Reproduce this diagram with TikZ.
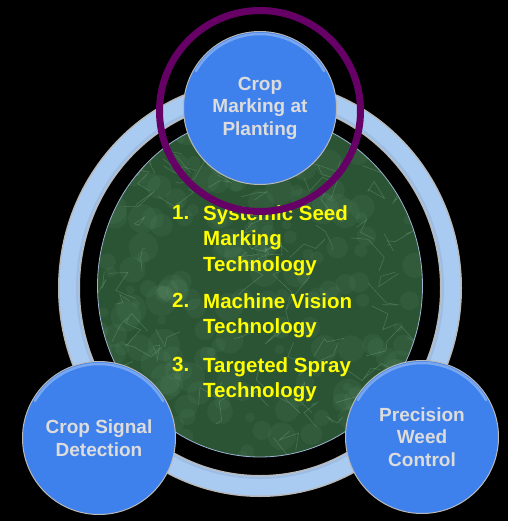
\documentclass[tikz,border=0pt]{standalone}
\usepackage{fontspec}
\setmainfont{Liberation Sans}
\usepackage{tikz}
\usetikzlibrary{positioning}
\definecolor{bubbleblue}{HTML}{3F81EC}
\definecolor{rimgrey}{HTML}{B8B8B8}
\definecolor{ringblue}{HTML}{A9CBF2}
\definecolor{marblegreen}{HTML}{2B5434}
\definecolor{veingreen}{HTML}{8DC09A}
\definecolor{listyellow}{HTML}{FFFF00}
\definecolor{labelgrey}{HTML}{DCDCDC}
\definecolor{markpurple}{HTML}{660066}

\begin{document}
\begin{tikzpicture}[
  x=1pt, y=-1pt,
  bubble/.style={circle, draw=rimgrey, line width=1pt, fill=bubbleblue, minimum size=153pt, inner sep=0pt, text=labelgrey, font=\fontsize{19}{22.5}\selectfont\bfseries, align=center},
  item/.style={anchor=north west, inner sep=0pt, text=listyellow, font=\fontsize{20.5}{25.5}\selectfont\bfseries, align=left},
  vein/.style={draw=veingreen, opacity=.3, line width=.6pt},
  mottle/.style={fill=veingreen, opacity=.07},
  gloss/.style={draw=white, opacity=.3, line width=2.5pt, line cap=round}
]
% black slide
\fill[black] (0,0) rectangle (508,521);
\useasboundingbox (0,0) rectangle (508,521);

% outer ring
\draw[rimgrey, line width=22pt] (260,288) ellipse [x radius=191, y radius=198];
\draw[ringblue, line width=19pt] (260,288) ellipse [x radius=191, y radius=198];
\draw[ringblue!80!black, opacity=.35, line width=2pt] (260,288) ellipse [x radius=183, y radius=190];

% marble disc
\begin{scope}
  \clip (260,286) ellipse [x radius=162.5, y radius=171];
  \fill[marblegreen] (90,110) rectangle (430,460);
  \pgfmathsetseed{11}
  \foreach \k in {1,...,220}{
    \fill[mottle] (95+330*rnd,110+350*rnd) circle [radius=4+12*rnd];
  }
  \foreach \k in {1,...,90}{
    \pgfmathsetmacro{\vx}{95+330*rnd}
    \pgfmathsetmacro{\vy}{110+350*rnd}
    \draw[vein] (\vx,\vy) -- ++(40*rnd-20,40*rnd-20) -- ++(40*rnd-20,40*rnd-20) -- ++(40*rnd-20,40*rnd-20);
  }
\end{scope}
\draw[ringblue!70!gray, line width=.8pt] (260,286) ellipse [x radius=162.5, y radius=171];

% the three steps
\node[bubble] (signal) at (99,438) {Crop Signal\\Detection};
\node[bubble] (weed) at (422,437) {Precision\\Weed\\Control};
\node[bubble] (plant) at (260,108) {Crop\\Marking at\\Planting};
\foreach \b in {signal,weed,plant}
  \draw[gloss] (\b.center) ++(-150:74) arc [start angle=-150, end angle=-30, radius=74];

% technologies
\node[item] (n1) at (172,205) {1.};
\node[item] (t1) at (203,205) {Systemic Seed\\Marking\\Technology};
\node[item] (n2) at (172,293) {2.};
\node[item] (t2) at (203,293) {Machine Vision\\Technology};
\node[item] (n3) at (172,357) {3.};
\node[item] (t3) at (203,357) {Targeted Spray\\Technology};

% highlight on the first step
\draw[markpurple, line width=7pt] (plant.center) ++(0,3) circle [radius=100.5];
\end{tikzpicture}
\end{document}
